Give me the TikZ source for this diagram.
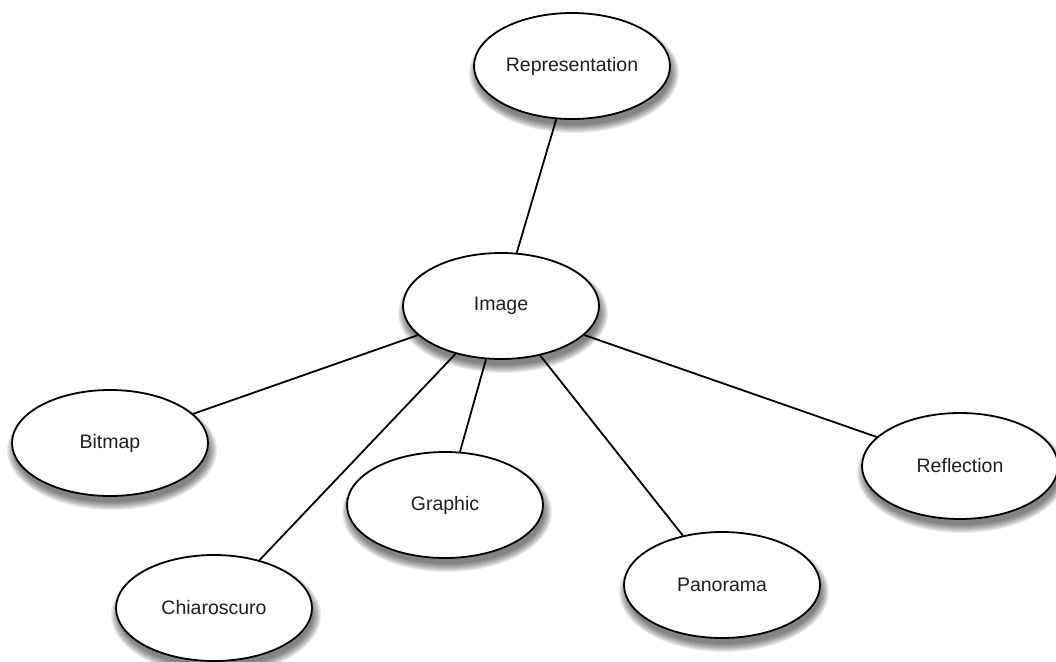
\documentclass[tikz,border=0pt]{standalone}
\usepackage{fontspec}
\setmainfont{Liberation Sans}
\usetikzlibrary{shapes.geometric,backgrounds}
\begin{document}
\begin{tikzpicture}[x=1pt,y=-1pt,
  concept/.style={ellipse, draw=black, line width=1.8pt, fill=white,
    minimum width=196pt, minimum height=106pt, inner sep=0pt,
    font=\fontsize{19.5}{23}\selectfont, text=black!88},
  link/.style={line width=1.8pt, draw=black},
  softshade/.style={fill=black, opacity=0.07}]
  \useasboundingbox (0,0) rectangle (1056,661);
  % concept nodes
  \node[concept] (rep)  at (572,66)  {Representation};
  \node[concept] (img)  at (501,306) {Image};
  \node[concept] (bit)  at (110,443) {Bitmap};
  \node[concept] (gra)  at (445,505) {Graphic};
  \node[concept] (chi)  at (214,608) {Chiaroscuro};
  \node[concept] (pan)  at (722,585) {Panorama};
  \node[concept] (ref)  at (960,466) {Reflection};
  % soft drop shadows under every ellipse
  \begin{pgfonlayer}{background}
    \foreach \n in {rep,img,bit,gra,chi,pan,ref}
      \foreach \i in {0,...,8}
        \fill[softshade] ([shift={(2,7)}]\n.center)
          ellipse [x radius={105-\i}, y radius={60-\i}];
  \end{pgfonlayer}
  % links between concepts
  \draw[link] (rep) -- (img);
  \draw[link] (img) -- (bit);
  \draw[link] (img) -- (chi);
  \draw[link] (img) -- (gra);
  \draw[link] (img) -- (pan);
  \draw[link] (img) -- (ref);
\end{tikzpicture}
\end{document}
